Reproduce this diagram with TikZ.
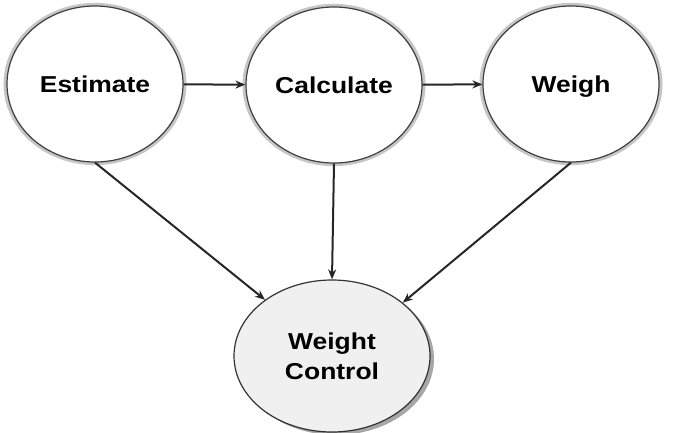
\documentclass[tikz,border=0pt]{standalone}
\usepackage{fontspec}
\setmainfont{Liberation Sans}
\newfontfamily\widefont[FakeStretch=1.15]{Liberation Sans}
\usetikzlibrary{shapes.geometric,arrows.meta,shadows}
\begin{document}
\begin{tikzpicture}[x=1pt,y=-1pt,
  topell/.style={ellipse, minimum width=176pt, minimum height=156pt, inner sep=0pt,
    general shadow={fill=gray!45, shadow scale=1.04},
    fill=white, draw=black!75, line width=1.2pt,
    text height=18pt, text depth=2pt,
    font=\widefont\bfseries\fontsize{23}{27}\selectfont},
  botell/.style={ellipse, minimum width=196pt, minimum height=152pt, inner sep=0pt,
    drop shadow={shadow xshift=4pt, shadow yshift=-3pt, fill=black, opacity=0.35},
    fill=gray!12, draw=black!80, line width=1.2pt, align=center,
    font=\widefont\bfseries\fontsize{23}{30}\selectfont},
  conn/.style={draw=black!85, line width=2pt, -{Stealth[length=10pt,width=8pt]}}]
\useasboundingbox (0,0) rectangle (680,432);
\node[topell] (e) at (95,84) {Estimate};
\node[topell] (c) at (334,85) {Calculate};
\node[topell] (w) at (571,84) {Weigh};
\node[botell] (wc) at (332,356) {Weight\\Control};
\draw[conn] (e) -- (c);
\draw[conn] (c) -- (w);
\draw[conn] (e.south) -- (wc.140);
\draw[conn] (c.south) -- (wc.north);
\draw[conn] (w.south) -- (wc.37);
\end{tikzpicture}
\end{document}
